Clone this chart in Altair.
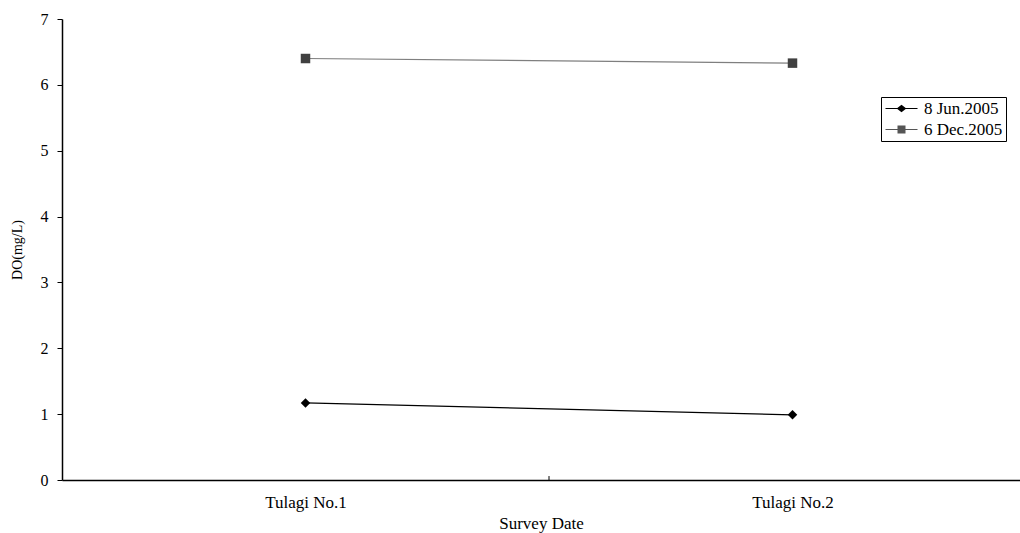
import altair as alt
import pandas as pd

# Dissolved oxygen at two Tulagi stations, two survey dates
sites = ["Tulagi No.1", "Tulagi No.2"]
dates = ["8 Jun.2005", "6 Dec.2005"]
do_jun = [1.17, 0.99]
do_dec = [6.40, 6.33]

rows = []
for d, vals in zip(dates, [do_jun, do_dec]):
    for i, (s, v) in enumerate(zip(sites, vals)):
        rows.append({"site": s, "pos": i + 0.5, "date": d, "do": v})
df = pd.DataFrame(rows)

FONT = "Liberation Serif"
XMAX = 958 / 487  # visible part of the category axis

label_expr = "datum.value == 0.5 ? '%s' : datum.value == 1.5 ? '%s' : ''" % (sites[0], sites[1])

x_enc = alt.X(
    "pos:Q",
    scale=alt.Scale(domain=[0, XMAX], nice=False, zero=False),
    axis=alt.Axis(
        values=[0.5, 1.5], labelExpr=label_expr, ticks=False, grid=False,
        title="Survey Date", labelPadding=14, titlePadding=5,
        labelFontSize=17, titleFontSize=17,
    ),
)
y_enc = alt.Y(
    "do:Q",
    scale=alt.Scale(domain=[0, 7], nice=False),
    axis=alt.Axis(
        values=list(range(0, 8)), format="d", grid=False, tickSize=5, labelPadding=9,
        title="DO(mg/L)", titlePadding=16, labelFontSize=16, titleFontSize=14,
    ),
)

base = alt.Chart(df)

lines = base.mark_line(strokeWidth=1.2).encode(
    x=x_enc, y=y_enc,
    color=alt.Color("date:N", scale=alt.Scale(domain=dates, range=["#000000", "#7f7f7f"]), legend=None),
    detail="date:N",
)

points = base.mark_point(filled=True, size=90, opacity=1).encode(
    x="pos:Q", y="do:Q",
    color=alt.Color("date:N", scale=alt.Scale(domain=dates, range=["#000000", "#404040"]), legend=None),
    shape=alt.Shape("date:N", scale=alt.Scale(domain=dates, range=["diamond", "square"]), legend=None),
)

# legend symbols: a short line with the series marker on it
leg_paths = [
    "M-2,-0.06H2V0.06H-2Z M-0.6,0L0,-0.48L0.6,0L0,0.48Z",
    "M-2,-0.06H2V0.06H-2Z M-0.5,-0.5H0.5V0.5H-0.5Z",
]
leg = alt.Legend(
    title=None, orient="none", legendX=819, legendY=78,
    symbolSize=256, symbolStrokeWidth=0, labelFontSize=17, labelFont=FONT,
    labelColor="#000000", strokeColor="#000000", fillColor="#ffffff",
    padding=3, rowPadding=3, labelOffset=14, symbolOffset=9,
    labelExpr="datum.label + '\u00a0\u00a0\u00a0\u00a0'",
)
legend_layer = base.transform_filter("datum.do < 0").mark_point(filled=True, size=256, opacity=1).encode(
    x="pos:Q", y="do:Q",
    color=alt.Color("date:N", scale=alt.Scale(domain=dates, range=["#000000", "#555555"]), legend=leg),
    shape=alt.Shape("date:N", scale=alt.Scale(domain=dates, range=leg_paths), legend=leg),
)

# upward tick at the boundary between the two stations
mid_tick = alt.Chart(pd.DataFrame({"b": [1.0], "y0": [0.0], "y1": [0.06]})).mark_rule(
    color="#000000", strokeWidth=1
).encode(x="b:Q", y="y0:Q", y2="y1:Q")

chart = (
    alt.layer(lines, points, legend_layer, mid_tick)
    .resolve_scale(color="independent", shape="independent")
    .properties(
        width=958, height=461,
        autosize=alt.AutoSizeParams(type="none"),
        padding={"left": 62, "top": 19, "right": 0, "bottom": 53},
        background="#ffffff",
    )
    .configure_view(stroke=None)
    .configure_axis(
        labelFont=FONT, titleFont=FONT, labelColor="#000000", titleColor="#000000",
        domainColor="#000000", tickColor="#000000", titleFontWeight="normal",
        domainWidth=1.5, tickWidth=1,
    )
)

chart.save("out.html", embed_options={"renderer": "svg", "actions": False})
